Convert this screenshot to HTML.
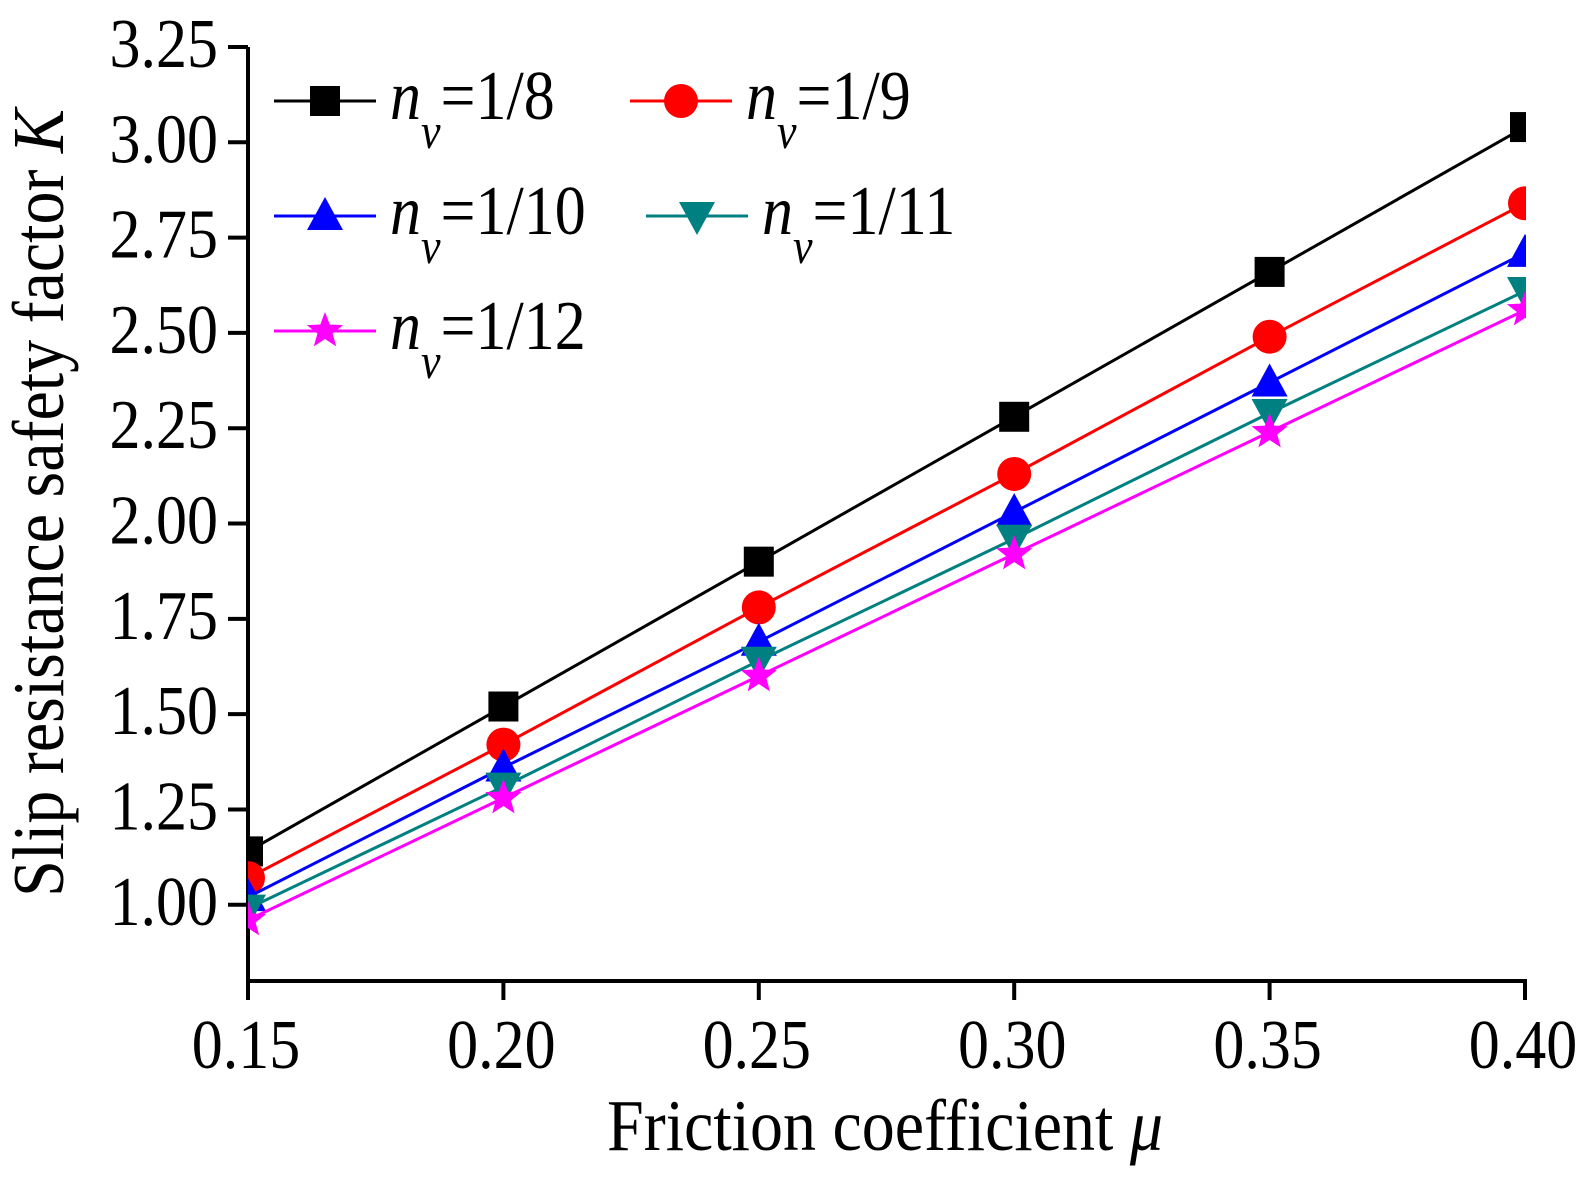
<!DOCTYPE html>
<html><head><meta charset="utf-8"><style>
html,body{margin:0;padding:0;background:#fff;}
svg{display:block;font-family:"Liberation Serif",serif;}
</style></head><body>
<svg id="chart" width="1588" height="1187" viewBox="0 0 1588 1187" xmlns="http://www.w3.org/2000/svg">
<defs><clipPath id="plotclip"><rect x="248" y="40" width="1278" height="942"/></clipPath></defs>
<g id="axes"></g>
<g id="series" clip-path="url(#plotclip)"></g>
<g id="legend"></g>
<text transform="translate(63,503) rotate(-90) scale(1,1.1)" text-anchor="middle" font-size="66">Slip resistance safety factor <tspan font-style="italic">K</tspan></text>
<text transform="translate(885,1150) scale(1,1.1)" text-anchor="middle" font-size="66">Friction coefficient <tspan font-style="italic">μ</tspan></text>
</svg>
<script>
const xCats=[0.15,0.20,0.25,0.30,0.35,0.40];
const xTickLabels=["0.15","0.20","0.25","0.30","0.35","0.40"];
const yTicks=[1.00,1.25,1.50,1.75,2.00,2.25,2.50,2.75,3.00,3.25];
const yTickLabels=["1.00","1.25","1.50","1.75","2.00","2.25","2.50","2.75","3.00","3.25"];
const s8=[1.14,1.52,1.90,2.28,2.66,3.04];
const s9=[1.07,1.42,1.78,2.13,2.49,2.84];
const s10=[1.02,1.36,1.69,2.03,2.37,2.71];
const s11=[0.99,1.31,1.64,1.96,2.29,2.61];
const s12=[0.96,1.28,1.60,1.92,2.24,2.56];
const seriesNames=["1/8","1/9","1/10","1/11","1/12"];

const NS="http://www.w3.org/2000/svg";
const X0=248,X1=1525,Y0=981,Y1=47,XMIN=0.15,XMAX=0.40,YMIN=0.80,YMAX=3.25;
const xs=v=>X0+(v-XMIN)/(XMAX-XMIN)*(X1-X0);
const ys=v=>Y0-(v-YMIN)/(YMAX-YMIN)*(Y0-Y1);
function mk(tag,attrs,parent){const e=document.createElementNS(NS,tag);for(const k in attrs)e.setAttribute(k,attrs[k]);parent.appendChild(e);return e;}
const axes=document.getElementById('axes');
let e=mk('line',{x1:X0,y1:Y1,x2:X0,y2:Y0+2,stroke:'#000','stroke-width':4},axes);


e=mk('line',{x1:X0-2,y1:Y0,x2:X1+2,y2:Y0,stroke:'#000','stroke-width':4},axes);


yTicks.forEach((v,i)=>{
  const t=mk('line',{x1:X0-20,y1:ys(v),x2:X0,y2:ys(v),stroke:'#000','stroke-width':4},axes);
  
  
  const l=mk('text',{transform:`translate(218,${ys(v)+20}) scale(1,1.12)`,'text-anchor':'end','font-size':62},axes);
  l.textContent=yTickLabels[i];
  
  
});
xCats.forEach((v,i)=>{
  const t=mk('line',{x1:xs(v),y1:Y0,x2:xs(v),y2:Y0+19,stroke:'#000','stroke-width':4},axes);
  
  
  const l=mk('text',{transform:`translate(${xs(v)-2},1068) scale(1,1.12)`,'text-anchor':'middle','font-size':62},axes);
  l.textContent=xTickLabels[i];
  
  
});
function marker(type,cx,cy,color,parent){
  let m;
  if(type==='square')m=mk('rect',{x:cx-15,y:cy-15,width:30,height:30,fill:color},parent);
  else if(type==='circle')m=mk('circle',{cx:cx,cy:cy,r:17,fill:color},parent);
  else if(type==='up')m=mk('polygon',{points:`${cx},${cy-19} ${cx+18},${cy+14} ${cx-18},${cy+14}`,fill:color},parent);
  else if(type==='down')m=mk('polygon',{points:`${cx-18},${cy-14} ${cx+18},${cy-14} ${cx},${cy+19}`,fill:color},parent);
  else{let p=[];for(let k=0;k<10;k++){const r=k%2?8:19,a=-Math.PI/2+k*Math.PI/5;p.push((cx+r*Math.cos(a)).toFixed(1)+','+(cy+r*Math.sin(a)).toFixed(1));}
    m=mk('polygon',{points:p.join(' '),fill:color},parent);}
  return m;
}
const allSeries=[s8,s9,s10,s11,s12];
const colors=['#000000','#ff0000','#0000ff','#008080','#ff00ff'];
const types=['square','circle','up','down','star'];
const sg=document.getElementById('series');
allSeries.forEach((s,si)=>{
  const g=mk('g',{},sg);
  
  
  const pl=mk('polyline',{points:s.map((v,i)=>xs(xCats[i])+','+ys(v)).join(' '),fill:'none',stroke:colors[si],'stroke-width':3},g);
  
  
  s.forEach((v,i)=>{const m=marker(types[si],xs(xCats[i]),ys(v),colors[si],g);
    
    });
});
const lg=document.getElementById('legend');
const lpos=[[274,101],[630,101],[274,216],[646,216],[274,331]];
seriesNames.forEach((n,i)=>{
  const [x,y]=lpos[i];
  const g=mk('g',{},lg);
  
  
  mk('line',{x1:x,y1:y,x2:x+102,y2:y,stroke:colors[i],'stroke-width':3},g);
  marker(types[i],x+51,y,colors[i],g);
  const t=mk('text',{transform:`translate(${x+116},${y+18}) scale(1,1.12)`,'font-size':62},g);
  t.innerHTML=`<tspan font-style="italic">n</tspan><tspan font-style="italic" font-size="44" dy="26">v</tspan><tspan dy="-26">=${n}</tspan>`;
});
</script>
</body></html>
